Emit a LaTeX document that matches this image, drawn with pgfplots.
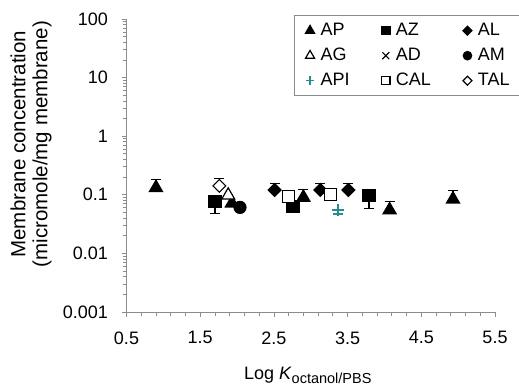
\documentclass[border=0pt]{standalone}
\usepackage{pgfplots}
\pgfplotsset{compat=1.18}
\usepackage{fontspec}
\setmainfont{Liberation Sans}
\definecolor{axgray}{RGB}{140,140,140}
\definecolor{apiteal}{RGB}{40,140,140}
\begin{document}
\begin{tikzpicture}
\path[use as bounding box] (0,0) rectangle (519pt,386pt);
\begin{axis}[
  scale only axis,
  width=368.5pt, height=293pt,
  at={(126.5pt,74pt)}, anchor=south west,
  xmin=0.5, xmax=5.5,
  ymode=log, ymin=0.001, ymax=100,
  axis x line*=bottom, axis y line*=left,
  axis line style={axgray, line width=1pt},
  every tick/.style={axgray, line width=0.8pt},
  tick align=outside,
  major tick length=5pt, minor tick length=4pt,
  xtick={0.5,1.5,2.5,3.5,4.5,5.5},
  xticklabels={0.5,1.5,2.5,3.5,4.5,5.5},
  minor x tick num=4,
  ytick={0.001,0.01,0.1,1,10,100},
  yticklabels={0.001,0.01,0.1,1,10,100},
  tick label style={font=\fontsize{18}{20}\selectfont},
  xticklabel style={yshift=-11pt},
  yticklabel style={xshift=-10pt},
  xlabel={Log \textit{K}\raisebox{-4pt}{\fontsize{14.5}{15}\selectfont octanol/PBS}},
  xlabel style={font=\fontsize{18}{20}\selectfont, at={(axis description cs:0.5,0)}, anchor=base, yshift=-67pt, xshift=-3pt},
  ylabel={Membrane concentration\\(micromole/mg membrane)},
  ylabel style={font=\fontsize{20.5}{22}\selectfont, align=center, at={(axis description cs:-0.259,0.573)}, anchor=center},
  only marks,
  legend image code/.code={\draw[#1,/tikz/every mark/.append style={scale=0.7}] plot coordinates {(0pt,0pt)};},
  legend columns=3,
  legend cell align=left,
  legend style={
    at={(axis description cs:0.4545,1.013)}, anchor=north west,
    draw=axgray, line width=1pt,
    inner xsep=11pt, inner ysep=5pt,
    font=\fontsize{18}{20}\selectfont,
    nodes={text height=13pt, text depth=3pt, inner xsep=2pt, inner ysep=2pt},
    row sep=5pt,
    /tikz/every odd column/.append style={column sep=4pt},
    /tikz/every even column/.append style={column sep=30pt},
  },
  every axis plot/.append style={line width=1.2pt},
  error bars/y explicit,
  error bars/error mark options={rotate=90, mark size=5pt, line width=1.2pt},
  error bars/error bar style={line width=1.2pt},
]
% AP
\addplot[black, mark=triangle*, mark size=7.5pt, error bars/y dir=plus] coordinates {
  (0.90,0.132) +- (0,0.050)
  (1.93,0.072) +- (0,0.0)
  (2.90,0.090) +- (0,0.033)
  (4.07,0.055) +- (0,0.022)
  (4.93,0.084) +- (0,0.033)
};
\addlegendentry{AP}
% AZ
\addplot[black, mark=square*, mark size=6pt, error bars/y dir=minus] coordinates {
  (1.70,0.078) +- (0,0.030)
  (2.76,0.063) +- (0,0.0)
  (3.79,0.097) +- (0,0.038)
};
\addlegendentry{AZ}
% AL
\addplot[black, mark=square*, mark size=4.5pt, mark options={rotate=45}, error bars/y dir=plus] coordinates {
  (2.51,0.121) +- (0,0.036)
  (3.13,0.121) +- (0,0.036)
  (3.51,0.121) +- (0,0.036)
};
\addlegendentry{AL}
% AG
\addplot[black, mark=triangle*, mark size=7.5pt, mark options={fill=white}] coordinates {
  (1.88,0.098) +- (0,0.0)
};
\addlegendentry{AG}
% AD
\addlegendimage{black, only marks, mark=x, mark size=7pt, line width=1.2pt}
\addlegendentry{AD}
% AM
\addplot[black, mark=*, mark size=6pt] coordinates {
  (2.04,0.061) +- (0,0.0)
};
\addlegendentry{AM}
% API
\addplot[apiteal, mark=+, mark size=6pt, error bars/y dir=minus] coordinates {
  (3.37,0.055) +- (0,0.008)
};
\addlegendentry{API}
% CAL
\addplot[black, mark=square*, mark size=6pt, mark options={fill=white}] coordinates {
  (2.70,0.094) +- (0,0.0)
  (3.27,0.102) +- (0,0.0)
};
\addlegendentry{CAL}
% TAL
\addplot[black, mark=square*, mark size=4.5pt, mark options={rotate=45, fill=white}, error bars/y dir=plus] coordinates {
  (1.76,0.142) +- (0,0.045)
};
\addlegendentry{TAL}
\end{axis}
\end{tikzpicture}
\end{document}
